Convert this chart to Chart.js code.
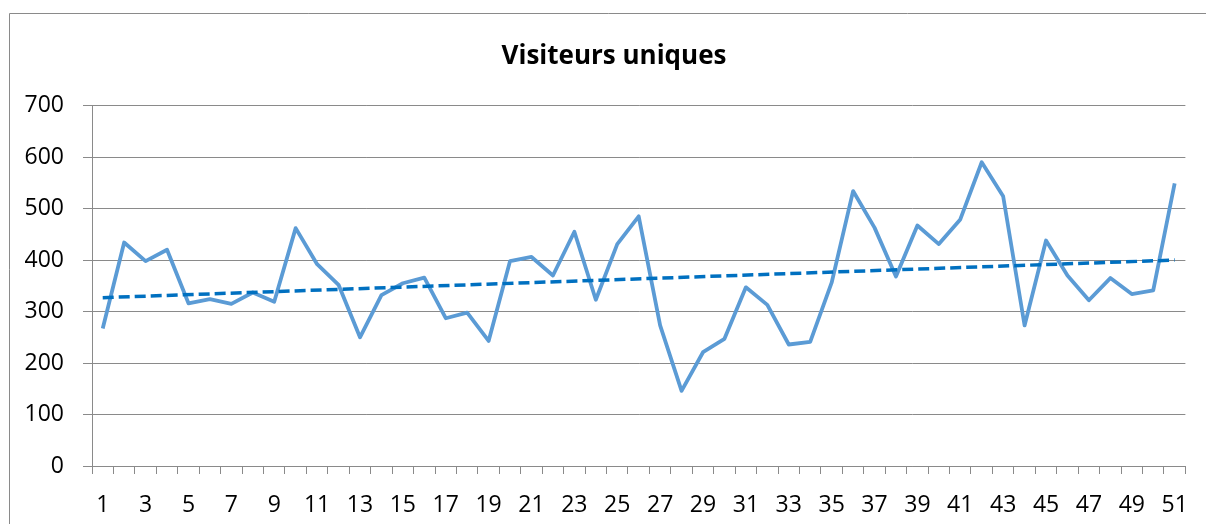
<!DOCTYPE html>
<html>
<head>
<meta charset="utf-8">
<script src="https://cdn.jsdelivr.net/npm/chart.js@4/dist/chart.umd.min.js"></script>
<style>
  body { margin: 0; background: #fff; }
  #wrap { width: 1206px; height: 524px; position: relative; }
</style>
</head>
<body>
<div id="wrap"><canvas id="chart"></canvas></div>
<script>
// ===== données =====
const weeks = [];
for (let i = 1; i <= 51; i++) weeks.push(String(i));

const visiteurs = [
  267, 434, 398, 420, 316, 324, 315, 337, 319, 462,
  392, 352, 250, 332, 355, 366, 287, 298, 243, 398,
  406, 370, 455, 323, 431, 485, 273, 146, 221, 247,
  347, 313, 236, 241, 356, 534, 463, 368, 467, 431,
  479, 590, 524, 273, 438, 370, 322, 365, 334, 341,
  549
];

// tendance linéaire : valeur au début et à la fin
const tendance = [327, 400];

const yTicks = [0, 100, 200, 300, 400, 500, 600, 700];

const titre = 'Visiteurs uniques';

const GRIS = '#8a8a8a';
const FONT = '"Open Sans", "Noto Sans", sans-serif';

// ligne de tendance : seulement les deux extrémités, reliées
const trendData = weeks.map((w, i) => {
  if (i === 0) return tendance[0];
  if (i === weeks.length - 1) return tendance[1];
  return null;
});

// cadre du graphique (bord gauche et haut) + titre centré sur le cadre
const framePlugin = {
  id: 'frame',
  beforeDraw(chart) {
    const ctx = chart.ctx;
    ctx.save();
    ctx.strokeStyle = GRIS;
    ctx.lineWidth = 1;
    ctx.beginPath();
    ctx.moveTo(9.5, 600);
    ctx.lineTo(9.5, 13.5);
    ctx.lineTo(1300, 13.5);
    ctx.stroke();

    ctx.fillStyle = '#000';
    ctx.font = 'bold 26px ' + FONT;
    ctx.textAlign = 'center';
    ctx.textBaseline = 'alphabetic';
    ctx.fillText(titre, 614, 64);
    ctx.restore();
  }
};

new Chart(document.getElementById('chart'), {
  type: 'line',
  data: {
    labels: weeks,
    datasets: [
      {
        label: titre,
        data: visiteurs,
        borderColor: '#5B9BD5',
        borderWidth: 3.8,
        pointRadius: 0,
        tension: 0,
        borderJoinStyle: 'round',
        order: 2
      },
      {
        label: 'Tendance',
        data: trendData,
        spanGaps: true,
        borderColor: '#0070C0',
        borderWidth: 3.5,
        borderDash: [11, 5],
        pointRadius: 0,
        tension: 0,
        order: 1
      }
    ]
  },
  options: {
    responsive: true,
    maintainAspectRatio: false,
    animation: false,
    layout: { padding: { left: 0, right: 19, top: 105.6, bottom: 0 } },
    scales: {
      x: {
        offset: true,
        grid: {
          offset: true,
          drawOnChartArea: false,
          drawTicks: true,
          tickLength: 8,
          tickColor: GRIS
        },
        border: { color: GRIS, width: 1 },
        ticks: {
          autoSkip: false,
          maxRotation: 0,
          color: '#000',
          padding: 18,
          font: { family: FONT, size: 23 },
          callback: (v, i) => (i % 2 === 0 ? weeks[i] : '')
        },
        afterFit: s => { s.height = 58; }
      },
      y: {
        min: 0,
        max: 700,
        afterBuildTicks: s => { s.ticks = yTicks.map(v => ({ value: v })); },
        grid: { color: GRIS, tickLength: 9, tickColor: GRIS },
        border: { color: GRIS, width: 1 },
        ticks: {
          color: '#000',
          padding: 19,
          font: { family: FONT, size: 23 }
        },
        afterFit: s => { s.width = 92; }
      }
    },
    plugins: {
      legend: { display: false },
      tooltip: { enabled: false },
      title: { display: false }
    }
  },
  plugins: [framePlugin]
});
</script>
</body>
</html>
